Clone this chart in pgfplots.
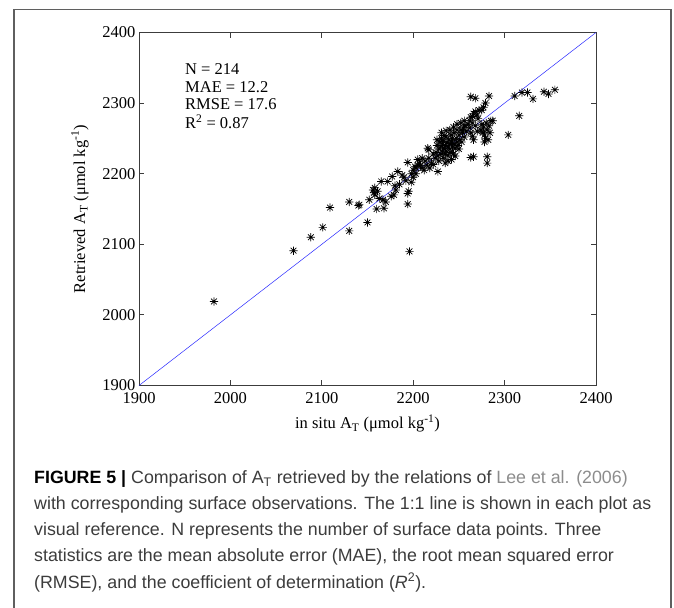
\documentclass[border=0pt]{standalone}
\usepackage{fontspec}
\setmainfont{Liberation Serif}
\newfontfamily\capfont{Liberation Sans}
\usepackage{pgfplots}
\pgfplotsset{compat=1.18}
\definecolor{capgray}{RGB}{60,60,60}
\definecolor{linkgray}{RGB}{140,140,140}
\definecolor{framegray}{RGB}{95,95,95}
\definecolor{axgray}{RGB}{60,60,60}
\pgfdeclareplotmark{mstar}{%
 \pgfpathmoveto{\pgfqpoint{-\pgfplotmarksize}{0pt}}\pgfpathlineto{\pgfqpoint{\pgfplotmarksize}{0pt}}%
 \pgfpathmoveto{\pgfqpoint{0pt}{-\pgfplotmarksize}}\pgfpathlineto{\pgfqpoint{0pt}{\pgfplotmarksize}}%
 \pgfpathmoveto{\pgfqpoint{-0.707\pgfplotmarksize}{-0.707\pgfplotmarksize}}\pgfpathlineto{\pgfqpoint{0.707\pgfplotmarksize}{0.707\pgfplotmarksize}}%
 \pgfpathmoveto{\pgfqpoint{-0.707\pgfplotmarksize}{0.707\pgfplotmarksize}}\pgfpathlineto{\pgfqpoint{0.707\pgfplotmarksize}{-0.707\pgfplotmarksize}}%
 \pgfusepathqstroke}
\pgfplotstableread{
x y
1982 2019
2069 2091
2088 2110
2101 2124
2109 2152
2130 2160
2130 2119
2140 2155
2141 2156
2150 2131
2152 2163
2196 2090
2194 2157
2194 2172
2195 2175
2194 2216
2156 2177
2157 2173
2158 2170
2160 2150
2168 2151
2167 2163
2163 2165
2165 2189
2172 2189
2177 2196
2181 2177
2183 2203
2188 2198
2179 2170
2176 2168
2170 2160
2158 2180
2161 2175
2185 2185
2180 2183
2190 2195
2192 2190
2198 2200
2200 2205
2202 2210
2205 2212
2203 2200
2207 2215
2210 2208
2212 2205
2213 2218
2215 2212
2217 2222
2218 2208
2220 2215
2222 2213
2210 2222
2205 2220
2200 2195
2198 2188
2203 2208
2208 2212
2227 2203
2217 2234
2216 2236
2225 2230
2226 2240
2227 2225
2228 2235
2229 2245
2230 2228
2230 2238
2231 2250
2232 2232
2232 2242
2233 2222
2233 2246
2234 2236
2235 2228
2235 2240
2236 2252
2236 2232
2237 2244
2238 2226
2238 2238
2239 2248
2240 2235
2240 2242
2241 2230
2241 2255
2242 2245
2243 2238
2243 2250
2244 2228
2245 2242
2245 2258
2246 2236
2247 2250
2248 2245
2248 2262
2249 2240
2250 2255
2250 2235
2251 2248
2252 2262
2253 2245
2254 2258
2255 2265
2256 2252
2257 2268
2258 2260
2246 2225
2242 2220
2238 2218
2235 2215
2228 2218
2224 2222
2231 2258
2236 2261
2240 2262
2244 2266
2248 2270
2252 2272
2256 2275
2222 2228
2226 2248
2234 2254
2260 2270
2262 2275
2263 2280
2265 2281
2266 2285
2268 2288
2270 2283
2271 2278
2272 2290
2265 2272
2268 2268
2274 2262
2275 2270
2276 2258
2277 2266
2278 2255
2279 2250
2280 2272
2281 2262
2283 2268
2284 2258
2285 2275
2287 2275
2282 2248
2278 2245
2265 2253
2266 2248
2263 2258
2270 2260
2262 2265
2263 2309
2268 2307
2283 2310
2277 2294
2279 2300
2275 2290
2263 2223
2266 2224
2281 2224
2281 2215
2304 2255
2316 2282
2311 2310
2319 2315
2325 2315
2331 2306
2343 2316
2348 2313
2355 2319
}\pts
\begin{document}
\begin{tikzpicture}
\path[use as bounding box] (0,0) rectangle (674bp,608bp);
\draw[framegray, line width=1.2bp] (14bp,-10bp) -- (14bp,598.5bp) -- (671bp,598.5bp) -- (671bp,-10bp);
\begin{axis}[
 at={(139bp,222.5bp)}, anchor=south west,
 scale only axis, width=457bp, height=353bp,
 xmin=1900, xmax=2400, ymin=1900, ymax=2400,
 xtick={1900,2000,...,2400}, ytick={1900,2000,...,2400},
 tick align=inside, major tick length=5bp,
 axis line style={axgray, line width=0.8bp},
 tick style={axgray, line width=0.8bp},
 tick label style={font=\fontsize{16.5bp}{19bp}\selectfont},
 xticklabel shift=4bp,
 label style={font=\fontsize{16.5bp}{19bp}\selectfont},
 xlabel={in situ A\textsubscript{T} (μmol kg\textsuperscript{-1})},
 ylabel={Retrieved A\textsubscript{T} (μmol kg\textsuperscript{-1})},
 xlabel style={at={(axis description cs:0.5,-0.123)}, anchor=base},
 ylabel style={at={(axis description cs:-0.118,0.5)}, anchor=base},
 /pgf/number format/1000 sep={},
 /pgf/number format/assume math mode=true,
 clip=false,
]
\addplot[only marks, mark=mstar, mark size=4.1bp, mark options={black, line width=0.7bp}] table[x=x,y=y] {\pts};
\addplot[color={rgb,255:red,40;green,40;blue,255}, line width=0.5bp] coordinates {(1900,1900) (2400,2400)};
\node[anchor=base west, inner sep=0, font=\fontsize{16.5bp}{19bp}\selectfont] at (axis cs:1950.3,2340.6) {N = 214};
\node[anchor=base west, inner sep=0, font=\fontsize{16.5bp}{19bp}\selectfont] at (axis cs:1950.3,2315.6) {MAE = 12.2};
\node[anchor=base west, inner sep=0, font=\fontsize{16.5bp}{19bp}\selectfont] at (axis cs:1950.3,2291.1) {RMSE = 17.6};
\node[anchor=base west, inner sep=0, font=\fontsize{16.5bp}{19bp}\selectfont] at (axis cs:1950.3,2263.8) {R\textsuperscript{2} = 0.87};
\end{axis}
\begin{scope}[every node/.style={anchor=base west, inner sep=0, text=capgray, font=\capfont\fontsize{17.8bp}{25bp}\selectfont}]
\node at (34bp,124bp) {{\bfseries\color{black}FIGURE 5 |} Comparison of A\textsubscript{T} retrieved by the relations of {\color{linkgray}Lee et al. (2006)}};
\node at (34bp,98bp) {with corresponding surface observations. The 1:1 line is shown in each plot as};
\node at (34bp,72bp) {visual reference. N represents the number of surface data points. Three};
\node at (34bp,46bp) {statistics are the mean absolute error (MAE), the root mean squared error};
\node at (34bp,20bp) {(RMSE), and the coefficient of determination (\textit{R}\textsuperscript{2}).};
\end{scope}
\end{tikzpicture}
\end{document}
